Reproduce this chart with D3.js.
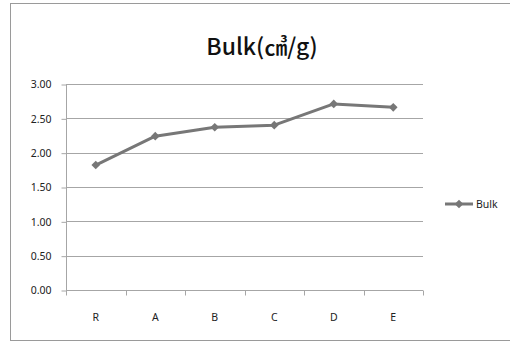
<!DOCTYPE html>
<html>
<head>
<meta charset="utf-8">
<script src="https://cdn.jsdelivr.net/npm/d3@7/dist/d3.min.js"></script>
<style>
  html, body { margin: 0; padding: 0; background: #fff; }
  svg { display: block; }
</style>
</head>
<body>
<script>
// Bulk volume per sample
const categories = ["R", "A", "B", "C", "D", "E"];
const bulkValues = [1.82, 2.24, 2.37, 2.40, 2.71, 2.66];
const yTicks = [0, 0.5, 1.0, 1.5, 2.0, 2.5, 3.0];
const seriesName = "Bulk";
const titleText = "Bulk(㎤/g)";

const W = 510, H = 342;
const plot = { left: 66, right: 423, top: 84, bottom: 290 };
const lineColor = "#777777";
const gridColor = "#a6a6a6";
const font = "'Noto Sans', 'DejaVu Sans', sans-serif";
const titleFont = "'Noto Sans CJK KR', 'Noto Sans', sans-serif";

const svg = d3.select("body").append("svg")
  .attr("width", W).attr("height", H);

// chart frame
svg.append("rect")
  .attr("x", 10.5).attr("y", 3.5)
  .attr("width", 520).attr("height", 337)
  .attr("fill", "#fff").attr("stroke", "#9a9a9a").attr("stroke-width", 1);

const x = d3.scaleBand().domain(categories).range([plot.left, plot.right]).padding(0);
const y = d3.scaleLinear().domain([0, 3]).range([plot.bottom, plot.top]);

// horizontal gridlines
svg.append("g").selectAll("line").data(yTicks.filter(d => d > 0)).join("line")
  .attr("x1", plot.left).attr("x2", plot.right)
  .attr("y1", d => Math.round(y(d)) + 0.5).attr("y2", d => Math.round(y(d)) + 0.5)
  .attr("stroke", gridColor).attr("stroke-width", 1);

// y axis
const yAxis = d3.axisLeft(y).tickValues(yTicks).tickFormat(d3.format(".2f"))
  .tickSize(5).tickPadding(10);
const gy = svg.append("g").attr("transform", `translate(${plot.left + 0.5},0.5)`).call(yAxis);
gy.select(".domain").attr("stroke", gridColor).attr("d", `M0,${plot.top}V${plot.bottom}`);
gy.selectAll(".tick line").attr("stroke", gridColor);
gy.selectAll(".tick text").attr("fill", "#222").style("font-family", font).style("font-size", "10.5px");

// x axis with ticks at category boundaries
const gx = svg.append("g").attr("transform", `translate(0,${plot.bottom + 0.5})`);
gx.append("line").attr("x1", plot.left).attr("x2", plot.right)
  .attr("stroke", gridColor);
const bounds = categories.map(c => x(c)).concat([x(categories[categories.length - 1]) + x.bandwidth()]);
gx.selectAll("line.tk").data(bounds).join("line").attr("class", "tk")
  .attr("x1", d => Math.round(d) + 0.5).attr("x2", d => Math.round(d) + 0.5)
  .attr("y1", 0).attr("y2", 5).attr("stroke", gridColor);
gx.selectAll("text").data(categories).join("text")
  .attr("x", d => x(d) + x.bandwidth() / 2).attr("y", 30)
  .attr("text-anchor", "middle").attr("fill", "#222")
  .style("font-family", font).style("font-size", "10.5px")
  .text(d => d);

// title
svg.append("text").attr("x", 262).attr("y", 55).attr("text-anchor", "middle")
  .attr("fill", "#111").style("font-family", titleFont).style("font-size", "23px")
  .style("font-weight", 500).text(titleText);

// series line
const pts = categories.map((c, i) => [x(c) + x.bandwidth() / 2, y(bulkValues[i])]);
svg.append("path").attr("d", d3.line()(pts))
  .attr("fill", "none").attr("stroke", lineColor).attr("stroke-width", 3)
  .attr("stroke-linejoin", "round");

const diamond = d3.symbol().type(d3.symbolDiamond2).size(48);
svg.append("g").selectAll("path").data(pts).join("path")
  .attr("transform", d => `translate(${d[0]},${d[1]})`)
  .attr("d", diamond).attr("fill", lineColor);

// legend
const lg = svg.append("g").attr("transform", "translate(445,204)");
lg.append("line").attr("x1", 0).attr("x2", 28).attr("stroke", lineColor).attr("stroke-width", 3);
lg.append("path").attr("transform", "translate(14,0)").attr("d", diamond).attr("fill", lineColor);
lg.append("text").attr("x", 31).attr("y", 4).attr("fill", "#222")
  .style("font-family", font).style("font-size", "10.5px").text(seriesName);
</script>
</body>
</html>
